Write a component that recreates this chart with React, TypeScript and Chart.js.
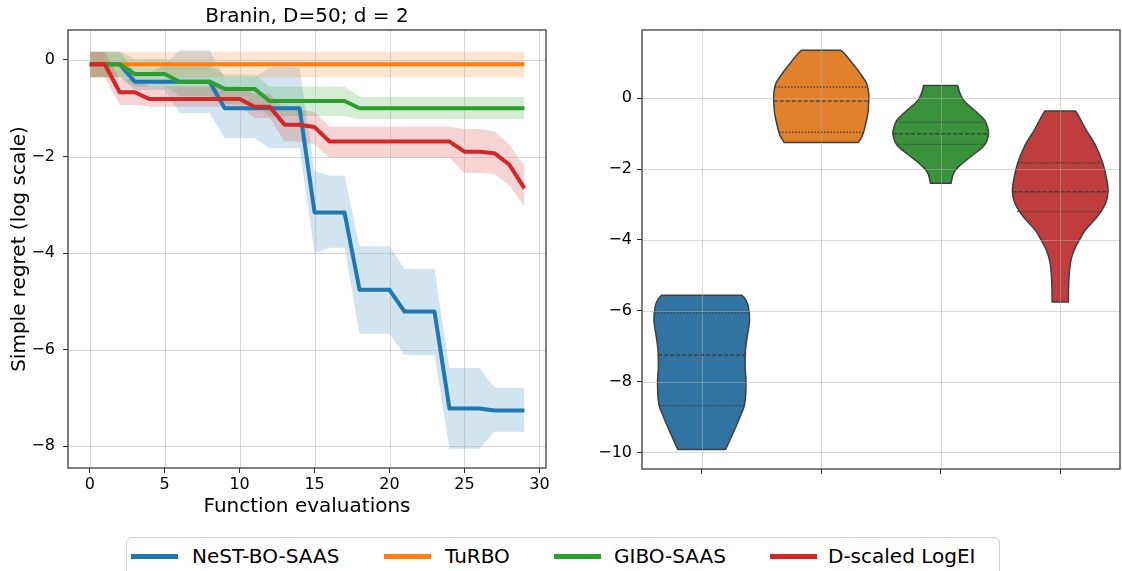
import React, { useEffect, useRef } from 'react';
import { Chart, registerables } from 'chart.js';

Chart.register(...registerables);

const FONT = '"DejaVu Sans", sans-serif';

// ---------------- Left panel data ----------------
const EVALS = [0, 1, 2, 3, 4, 5, 6, 7, 8, 9, 10, 11, 12, 13, 14, 15, 16, 17, 18, 19, 20, 21, 22, 23, 24, 25, 26, 27, 28, 29];

const NEST_MEAN = [-0.09, -0.09, -0.09, -0.45, -0.45, -0.45, -0.45, -0.45, -0.45, -1.0, -1.0, -1.0, -1.0, -1.0, -1.0, -3.16, -3.16, -3.16, -4.76, -4.76, -4.76, -5.21, -5.21, -5.21, -7.22, -7.22, -7.22, -7.26, -7.26, -7.26];
const NEST_UPPER = [0.17, 0.17, 0.17, -0.25, -0.25, -0.1, 0.2, 0.2, 0.2, -0.36, -0.36, -0.36, -0.15, -0.15, -0.15, -2.3, -2.4, -2.4, -3.86, -3.86, -3.86, -4.33, -4.33, -4.33, -6.38, -6.38, -6.38, -6.79, -6.79, -6.79];
const NEST_LOWER = [-0.36, -0.36, -0.36, -0.62, -0.62, -0.62, -1.1, -1.1, -1.1, -1.62, -1.62, -1.62, -1.83, -1.83, -1.83, -4.0, -3.89, -3.89, -5.67, -5.67, -5.67, -6.11, -6.11, -6.11, -8.05, -8.05, -8.05, -7.7, -7.7, -7.7];

const TURBO_MEAN = [-0.09, -0.09, -0.09, -0.09, -0.09, -0.09, -0.09, -0.09, -0.09, -0.09, -0.09, -0.09, -0.09, -0.09, -0.09, -0.09, -0.09, -0.09, -0.09, -0.09, -0.09, -0.09, -0.09, -0.09, -0.09, -0.09, -0.09, -0.09, -0.09, -0.09];
const TURBO_UPPER = [0.17, 0.17, 0.17, 0.17, 0.17, 0.17, 0.17, 0.17, 0.17, 0.17, 0.17, 0.17, 0.17, 0.17, 0.17, 0.17, 0.17, 0.17, 0.17, 0.17, 0.17, 0.17, 0.17, 0.17, 0.17, 0.17, 0.17, 0.17, 0.17, 0.17];
const TURBO_LOWER = [-0.36, -0.36, -0.36, -0.36, -0.36, -0.36, -0.36, -0.36, -0.36, -0.36, -0.36, -0.36, -0.36, -0.36, -0.36, -0.36, -0.36, -0.36, -0.36, -0.36, -0.36, -0.36, -0.36, -0.36, -0.36, -0.36, -0.36, -0.36, -0.36, -0.36];

const GIBO_MEAN = [-0.09, -0.09, -0.09, -0.29, -0.29, -0.29, -0.45, -0.45, -0.45, -0.6, -0.6, -0.6, -0.85, -0.85, -0.85, -0.85, -0.85, -0.85, -1.0, -1.0, -1.0, -1.0, -1.0, -1.0, -1.0, -1.0, -1.0, -1.0, -1.0, -1.0];
const GIBO_UPPER = [0.17, 0.17, 0.17, 0.02, 0.02, 0.02, -0.12, -0.12, -0.12, -0.3, -0.3, -0.3, -0.55, -0.55, -0.55, -0.55, -0.55, -0.55, -0.76, -0.76, -0.76, -0.76, -0.76, -0.76, -0.76, -0.76, -0.76, -0.76, -0.76, -0.76];
const GIBO_LOWER = [-0.36, -0.36, -0.36, -0.55, -0.55, -0.55, -0.75, -0.75, -0.75, -0.92, -0.92, -0.92, -1.16, -1.16, -1.16, -1.16, -1.16, -1.16, -1.23, -1.23, -1.23, -1.23, -1.23, -1.23, -1.23, -1.23, -1.23, -1.23, -1.23, -1.23];

const LOGEI_MEAN = [-0.09, -0.09, -0.67, -0.67, -0.81, -0.81, -0.81, -0.81, -0.81, -0.81, -0.81, -0.97, -0.97, -1.34, -1.34, -1.39, -1.69, -1.69, -1.69, -1.69, -1.69, -1.69, -1.69, -1.69, -1.69, -1.9, -1.9, -1.93, -2.17, -2.66];
const LOGEI_UPPER = [0.17, 0.17, -0.4, -0.4, -0.55, -0.55, -0.55, -0.55, -0.55, -0.55, -0.55, -0.7, -0.7, -1.03, -1.03, -1.08, -1.38, -1.38, -1.38, -1.38, -1.38, -1.38, -1.38, -1.38, -1.38, -1.43, -1.43, -1.48, -1.75, -2.2];
const LOGEI_LOWER = [-0.36, -0.36, -0.93, -0.93, -0.97, -0.97, -0.97, -0.97, -0.97, -0.97, -0.97, -1.2, -1.2, -1.69, -1.69, -1.75, -2.03, -2.03, -2.03, -2.03, -2.03, -2.03, -2.03, -2.03, -2.03, -2.34, -2.34, -2.36, -2.6, -3.03];

const LEFT_X_TICKS = [0, 5, 10, 15, 20, 25, 30];
const LEFT_Y_TICKS = [-8, -6, -4, -2, 0];

// ---------------- Right panel data (violins) ----------------
const NEST_VIOLIN_Y = [-5.56, -5.7, -5.89, -6.26, -6.74, -7.11, -7.58, -8.0, -8.62, -9.0, -9.47, -9.92];
const NEST_VIOLIN_W = [0.337, 0.37, 0.39, 0.4, 0.38, 0.366, 0.363, 0.37, 0.36, 0.32, 0.26, 0.2];
const NEST_QUARTILES = [-6.06, -7.25, -8.68];
const NEST_QUARTILE_W = [0.396, 0.365, 0.358];

const TURBO_VIOLIN_Y = [1.36, 1.2, 0.99, 0.8, 0.61, 0.42, 0.2, 0.0, -0.42, -0.89, -1.08, -1.25];
const TURBO_VIOLIN_W = [0.166, 0.21, 0.26, 0.305, 0.345, 0.38, 0.395, 0.398, 0.39, 0.36, 0.34, 0.31];
const TURBO_QUARTILES = [0.32, -0.08, -0.96];
const TURBO_QUARTILE_W = [0.386, 0.398, 0.352];

const GIBO_VIOLIN_Y = [0.36, 0.2, -0.05, -0.33, -0.61, -0.8, -1.01, -1.32, -1.65, -1.93, -2.12, -2.4];
const GIBO_VIOLIN_W = [0.144, 0.155, 0.19, 0.28, 0.366, 0.39, 0.4, 0.366, 0.25, 0.15, 0.107, 0.086];
const GIBO_QUARTILES = [-0.68, -1.0, -1.3];
const GIBO_QUARTILE_W = [0.34, 0.4, 0.366];

const LOGEI_VIOLIN_Y = [-0.36, -0.6, -0.89, -1.36, -1.84, -2.31, -2.64, -2.96, -3.34, -3.72, -4.0, -4.3, -4.6, -5.0, -5.4, -5.75];
const LOGEI_VIOLIN_W = [0.13, 0.17, 0.216, 0.3, 0.357, 0.39, 0.4, 0.38, 0.31, 0.21, 0.16, 0.115, 0.088, 0.074, 0.069, 0.068];
const LOGEI_QUARTILES = [-1.82, -2.64, -3.2];
const LOGEI_QUARTILE_W = [0.352, 0.398, 0.362];

const CATEGORY_POS = [0, 1, 2, 3];
const RIGHT_Y_TICKS = [-10, -8, -6, -4, -2, 0];

const METHODS = ['NeST-BO-SAAS', 'TuRBO', 'GIBO-SAAS', 'D-scaled LogEI'];
const LINE_COLORS = ['#1f77b4', '#ff7f0e', '#2ca02c', '#d62728'];
const BAND_COLORS = ['rgba(31,119,180,0.2)', 'rgba(255,127,14,0.2)', 'rgba(44,160,44,0.2)', 'rgba(214,39,40,0.2)'];
const VIOLIN_COLORS = ['#3274a1', '#e1812c', '#3a923a', '#c03d3e'];
const GRID_COLOR = 'rgba(176,176,176,0.5)';
const EDGE_COLOR = '#3f3f3f';

const fmt = (v: number) => (v < 0 ? '\u2212' + Math.abs(v) : String(v));

function drawGrid(chart: any) {
  const { ctx, chartArea: a, scales } = chart;
  ctx.save();
  ctx.strokeStyle = GRID_COLOR;
  ctx.lineWidth = 1;
  ctx.beginPath();
  for (const t of scales.x.ticks) {
    const px = Math.round(scales.x.getPixelForValue(t.value)) + 0.5;
    ctx.moveTo(px, a.top);
    ctx.lineTo(px, a.bottom);
  }
  for (const t of scales.y.ticks) {
    const py = Math.round(scales.y.getPixelForValue(t.value)) + 0.5;
    ctx.moveTo(a.left, py);
    ctx.lineTo(a.right, py);
  }
  ctx.stroke();
  ctx.restore();
}

const layerPlugin = {
  id: 'layerPlugin',
  beforeDatasetsDraw(chart: any) {
    chart.$gridDone = false;
  },
  beforeDatasetDraw(chart: any, args: any) {
    const ds = chart.data.datasets[args.index];
    if (ds.layer === 'line' && !chart.$gridDone) {
      drawGrid(chart);
      chart.$gridDone = true;
    }
  },
  afterDatasetsDraw(chart: any) {
    if (!chart.$gridDone) drawGrid(chart);
    const { ctx, chartArea: a } = chart;
    ctx.save();
    ctx.strokeStyle = '#2a2a2a';
    ctx.lineWidth = 1.2;
    ctx.strokeRect(a.left, a.top, a.right - a.left, a.bottom - a.top);
    ctx.restore();
  },
};

function leftConfig(): any {
  const series = [
    [NEST_MEAN, NEST_UPPER, NEST_LOWER],
    [TURBO_MEAN, TURBO_UPPER, TURBO_LOWER],
    [GIBO_MEAN, GIBO_UPPER, GIBO_LOWER],
    [LOGEI_MEAN, LOGEI_UPPER, LOGEI_LOWER],
  ];
  const toPts = (arr: number[]) => EVALS.map((x, i) => ({ x, y: arr[i] }));
  const datasets: any[] = [];
  series.forEach(([mean, up, lo], k) => {
    datasets.push({
      data: toPts(up), fill: '+1', backgroundColor: BAND_COLORS[k], borderWidth: 0,
      pointRadius: 0, order: 13 - k, layer: 'band',
    });
    datasets.push({
      data: toPts(lo), fill: false, borderWidth: 0, borderColor: 'rgba(0,0,0,0)',
      pointRadius: 0, order: 13 - k, layer: 'band',
    });
  });
  series.forEach(([mean], k) => {
    datasets.push({
      label: METHODS[k], data: toPts(mean), fill: false, borderColor: LINE_COLORS[k], borderWidth: 4,
      borderJoinStyle: 'round', pointRadius: 0, order: 3 - k, layer: 'line',
    });
  });
  return {
    type: 'line',
    data: { datasets },
    plugins: [layerPlugin],
    options: {
      responsive: false, animation: false, devicePixelRatio: 1, events: [],
      layout: { padding: { left: 0, right: 14, top: 0, bottom: 0 } },
      plugins: {
        legend: { display: false }, tooltip: { enabled: false },
        title: {
          display: true, text: 'Branin, D=50; d = 2', fullSize: false, color: '#000',
          font: { family: FONT, size: 20, weight: 'normal' }, padding: { top: 5, bottom: 1 },
        },
      },
      scales: {
        x: {
          type: 'linear', min: -1.45, max: 30.44,
          afterBuildTicks: (s: any) => { s.ticks = LEFT_X_TICKS.map((v) => ({ value: v })); },
          afterFit: (s: any) => { s.height = 62; },
          ticks: { color: '#000', font: { family: FONT, size: 16 }, padding: 2, maxRotation: 0, callback: (v: any) => fmt(v) },
          grid: { drawOnChartArea: false, drawTicks: true, tickLength: 5, tickColor: '#2a2a2a', tickWidth: 1 },
          border: { display: false },
          title: { display: true, text: 'Function evaluations', color: '#000', font: { family: FONT, size: 20 }, padding: { top: 0, bottom: 11 } },
        },
        y: {
          type: 'linear', min: -8.45, max: 0.62,
          afterBuildTicks: (s: any) => { s.ticks = LEFT_Y_TICKS.map((v) => ({ value: v })); },
          afterFit: (s: any) => { s.width = 68; },
          ticks: { color: '#000', font: { family: FONT, size: 16 }, padding: 8, callback: (v: any) => fmt(v) },
          grid: { drawOnChartArea: false, drawTicks: true, tickLength: 5, tickColor: '#2a2a2a', tickWidth: 1 },
          border: { display: false },
          title: { display: true, text: 'Simple regret (log scale)', color: '#000', font: { family: FONT, size: 20 }, padding: { top: 8, bottom: 0 } },
        },
      },
    },
  };
}

function rightConfig(): any {
  const violins = [
    [NEST_VIOLIN_Y, NEST_VIOLIN_W, NEST_QUARTILES, NEST_QUARTILE_W],
    [TURBO_VIOLIN_Y, TURBO_VIOLIN_W, TURBO_QUARTILES, TURBO_QUARTILE_W],
    [GIBO_VIOLIN_Y, GIBO_VIOLIN_W, GIBO_QUARTILES, GIBO_QUARTILE_W],
    [LOGEI_VIOLIN_Y, LOGEI_VIOLIN_W, LOGEI_QUARTILES, LOGEI_QUARTILE_W],
  ];
  const datasets: any[] = [];
  violins.forEach(([ys, ws], k) => {
    const c = CATEGORY_POS[k];
    const right = ys.map((y, i) => ({ x: c + ws[i], y }));
    const left = ys.map((y, i) => ({ x: c - ws[i], y })).reverse();
    // corner points repeated so the spline keeps the cut top/bottom edges straight
    const outline = [
      right[0], ...right, right[right.length - 1],
      left[0], ...left, left[left.length - 1],
      right[0],
    ];
    datasets.push({
      data: outline, fill: 'shape', backgroundColor: VIOLIN_COLORS[k],
      borderColor: EDGE_COLOR, borderWidth: 1.5, borderJoinStyle: 'round', pointRadius: 0, tension: 0.35,
      order: 10, layer: 'violin',
    });
  });
  violins.forEach(([, , qs, qw], k) => {
    const c = CATEGORY_POS[k];
    qs.forEach((q, j) => {
      datasets.push({
        data: [{ x: c - qw[j], y: q }, { x: c + qw[j], y: q }], fill: false, borderColor: EDGE_COLOR,
        borderWidth: 1.4, borderDash: j === 1 ? [4, 2] : [1.4, 1.8], pointRadius: 0, order: 0, layer: 'line',
      });
    });
  });
  return {
    type: 'line',
    data: { datasets },
    plugins: [layerPlugin],
    options: {
      responsive: false, animation: false, devicePixelRatio: 1, events: [],
      layout: { padding: { left: 0, right: 2, top: 30, bottom: 0 } },
      plugins: { legend: { display: false }, tooltip: { enabled: false } },
      scales: {
        x: {
          type: 'linear', min: -0.5, max: 3.5,
          afterBuildTicks: (s: any) => { s.ticks = CATEGORY_POS.map((v) => ({ value: v })); },
          afterFit: (s: any) => { s.height = 61; },
          ticks: { display: true, callback: () => '', font: { family: FONT, size: 16 } },
          grid: { drawOnChartArea: false, drawTicks: true, tickLength: 5, tickColor: '#2a2a2a', tickWidth: 1 },
          border: { display: false },
        },
        y: {
          type: 'linear', min: -10.47, max: 1.93,
          afterBuildTicks: (s: any) => { s.ticks = RIGHT_Y_TICKS.map((v) => ({ value: v })); },
          afterFit: (s: any) => { s.width = 82; },
          ticks: { color: '#000', font: { family: FONT, size: 16 }, padding: 5, callback: (v: any) => fmt(v) },
          grid: { drawOnChartArea: false, drawTicks: true, tickLength: 5, tickColor: '#2a2a2a', tickWidth: 1 },
          border: { display: false },
        },
      },
    },
  };
}

function ChartCanvas({ config, left, width, height }: { config: () => any; left: number; width: number; height: number }) {
  const ref = useRef<HTMLCanvasElement | null>(null);
  useEffect(() => {
    if (!ref.current) return;
    const chart = new Chart(ref.current, config());
    return () => chart.destroy();
  }, [config]);
  return (
    <canvas
      ref={ref}
      width={width}
      height={height}
      style={{ position: 'absolute', left, top: 0, width, height, display: 'block' }}
    />
  );
}

const LEGEND_LINE_X = [4, 257, 427, 643];
const LEGEND_TEXT_X = [65, 318, 487, 701];

function Legend() {
  return (
    <div
      style={{
        position: 'absolute', left: 126, top: 537, width: 874, height: 60,
        border: '1px solid #d0d0d0', borderRadius: 6, background: '#fff', boxSizing: 'border-box',
        fontFamily: FONT, fontSize: 20, color: '#000',
      }}
    >
      {METHODS.map((m, k) => (
        <React.Fragment key={m}>
          <div style={{ position: 'absolute', left: LEGEND_LINE_X[k], top: 16, width: 47, height: 4.5, background: LINE_COLORS[k] }} />
          <span style={{ position: 'absolute', left: LEGEND_TEXT_X[k], top: 6, lineHeight: '24px', whiteSpace: 'nowrap' }}>{m}</span>
        </React.Fragment>
      ))}
    </div>
  );
}

export default function App() {
  return (
    <div style={{ position: 'fixed', left: 0, top: 0, width: 1122, height: 571, background: '#fff', overflow: 'hidden' }}>
      <ChartCanvas config={leftConfig} left={0} width={560} height={530} />
      <ChartCanvas config={rightConfig} left={560} width={562} height={530} />
      <Legend />
    </div>
  );
}
